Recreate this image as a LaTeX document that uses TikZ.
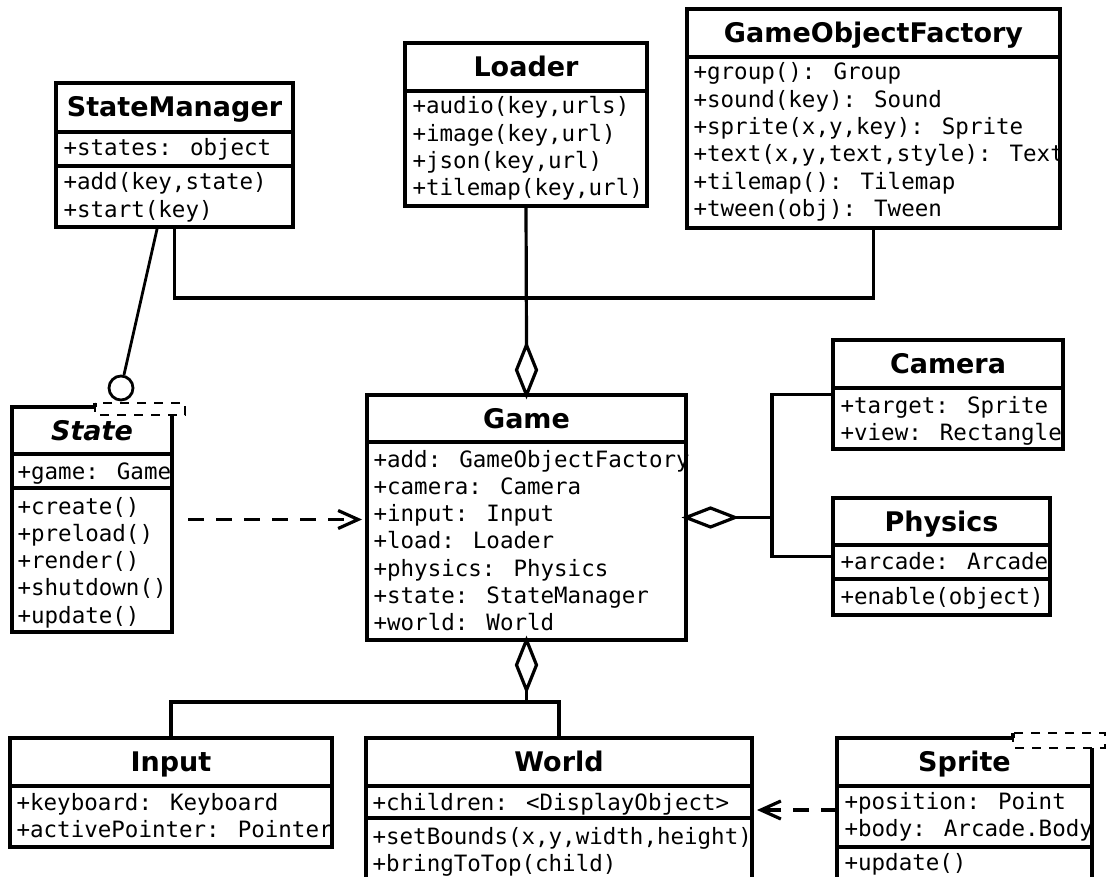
\documentclass[tikz,border=0pt]{standalone}
\usepackage{fontspec}
\setmainfont{DejaVu Sans}
\newfontfamily\monof{DejaVu Sans Mono}
\usetikzlibrary{arrows.meta,shapes.geometric,calc}
\newcommand\mrows[4]{% prefix, x, first baseline, list
  \foreach \t [count=\i] in {#4}{%
    \node[mem] (#1-\i) at (#2,{#3+(\i-1)*27.3}) {\t};}}
\begin{document}
\begin{tikzpicture}[x=1pt,y=-1pt, line width=3.2pt, line join=miter,
  box/.style={draw, rectangle, inner sep=0pt, outer sep=0pt, anchor=north west},
  ghost/.style={rectangle, inner sep=0pt, outer sep=0pt, anchor=north west},
  ttl/.style={font=\fontsize{27}{30}\selectfont\bfseries, anchor=base, inner sep=0pt},
  mem/.style={font=\monof\fontsize{22.5}{27}\selectfont, anchor=base west, inner sep=0pt},
  agg/.style={draw, fill=white, shape=diamond, inner sep=0pt, outer sep=0pt, aspect=1},
  dep/.style={dash pattern=on 16pt off 12pt, -{Straight Barb[length=20pt,width=18pt]}},
  tmpl/.style={dash pattern=on 9pt off 8pt, line width=2.8pt}
]
\clip (0,0) rectangle (1106,877);
\fill[white] (0,0) rectangle (1106,877);

% ---------- StateManager
\node[box, minimum width=237pt, minimum height=144pt] (sm) at (56,83) {};
\draw (56,132) -- (293,132);
\draw (56,166) -- (293,166);
\node[ttl] (sm-t) at (174.5,117) {StateManager};
\mrows{sma}{62}{156}{{+states: object}}
\mrows{smm}{62}{190}{{+add(key,state)},{+start(key)}}

% ---------- Loader
\node[box, minimum width=242pt, minimum height=163pt] (ld) at (405,43) {};
\draw (405,91) -- (647,91);
\node[ttl] (ld-t) at (526,76.5) {Loader};
\mrows{ldm}{411}{114}{{+audio(key,urls)},{+image(key,url)},{+json(key,url)},{+tilemap(key,url)}}

% ---------- GameObjectFactory
\node[box, minimum width=373pt, minimum height=219pt] (gof) at (687,9) {};
\draw (687,57) -- (1060,57);
\node[ttl] (gof-t) at (873.5,42.5) {GameObjectFactory};
\mrows{gofm}{692}{80}{{+group(): Group},{+sound(key): Sound},{+sprite(x,y,key): Sprite},{+text(x,y,text,style): Text},{+tilemap(): Tilemap},{+tween(obj): Tween}}

% ---------- State (interface with template box)
\node[ghost, minimum width=160pt, minimum height=225pt] (state) at (12,407) {};
\draw (95,407) -- (12,407) -- (12,632) -- (172,632) -- (172,415);
\draw (12,454) -- (172,454);
\draw (12,488) -- (172,488);
\node[ghost, minimum width=90pt, minimum height=12pt] (stpl) at (95,403) {};
\draw[tmpl] (95,403) rectangle (185,415);
\draw (95,403) -- (95,407);
\node[ttl, font=\fontsize{27}{30}\selectfont\bfseries\itshape] (state-t) at (92,440) {State};
\mrows{sta}{16}{479}{{+game: Game}}
\mrows{stm}{16}{514}{{+create()},{+preload()},{+render()},{+shutdown()},{+update()}}

% ---------- Game
\node[box, minimum width=319pt, minimum height=245pt] (game) at (367,395) {};
\draw (367,442) -- (686,442);
\node[ttl] (game-t) at (526.5,428) {Game};
\mrows{gma}{372}{467}{{+add: GameObjectFactory},{+camera: Camera},{+input: Input},{+load: Loader},{+physics: Physics},{+state: StateManager},{+world: World}}

% ---------- Camera
\node[box, minimum width=230pt, minimum height=109pt] (cam) at (833,340) {};
\draw (833,388) -- (1063,388);
\node[ttl] (cam-t) at (948,373.5) {Camera};
\mrows{cama}{839}{413}{{+target: Sprite},{+view: Rectangle}}

% ---------- Physics
\node[box, minimum width=217pt, minimum height=117pt] (phys) at (833,498) {};
\draw (833,545) -- (1050,545);
\draw (833,579) -- (1050,579);
\node[ttl] (phys-t) at (941.5,531) {Physics};
\mrows{pha}{839}{569}{{+arcade: Arcade}}
\mrows{phm}{839}{604}{{+enable(object)}}

% ---------- Input
\node[box, minimum width=322pt, minimum height=109pt] (inp) at (10,738) {};
\draw (10,786) -- (332,786);
\node[ttl] (inp-t) at (171,771.5) {Input};
\mrows{ina}{15}{810}{{+keyboard: Keyboard},{+activePointer: Pointer}}

% ---------- World
\node[box, minimum width=386pt, minimum height=160pt] (world) at (366,738) {};
\draw (366,786) -- (752,786);
\draw (366,818) -- (752,818);
\node[ttl] (world-t) at (559,771.5) {World};
\mrows{wda}{371}{810}{{+children: <DisplayObject>}}
\mrows{wdm}{371}{844}{{+setBounds(x,y,width,height)},{+bringToTop(child)}}

% ---------- Sprite (template box)
\node[ghost, minimum width=255pt, minimum height=144pt] (sprite) at (837,738) {};
\draw (1013,738) -- (837,738) -- (837,900);
\draw (1092,748) -- (1092,900);
\draw (837,786) -- (1092,786);
\draw (837,847) -- (1092,847);
\node[ghost, minimum width=92pt, minimum height=15pt] (sptpl) at (1013,733) {};
\draw[tmpl] (1013,733) rectangle (1105,748);
\draw (1013,733) -- (1013,738);
\node[ttl] (spr-t) at (964.5,771.5) {Sprite};
\mrows{spa}{843}{809}{{+position: Point},{+body: Arcade.Body}}
\mrows{spm}{843}{870}{{+update()}}

% ---------- connectors
\coordinate (bus) at (526,298);
\draw (sm.south) |- (bus) -| (gof.south);
\node[agg, minimum width=20pt, minimum height=50pt, anchor=south] (d1) at (game.north) {};
\draw (ld.south) -- (d1.north);

\node[agg, minimum width=49pt, minimum height=19pt, anchor=west] (d2) at (game.east) {};
\coordinate (split) at (772,517.5);
\draw (d2.east) -- (split);
\draw (cam.west) -| (split) |- (phys.west);

\node[agg, minimum width=20pt, minimum height=50pt, anchor=north] (d3) at (game.south) {};
\coordinate (bj) at (526.5,702);
\draw (d3.south) -- (bj);
\draw (inp.north) |- (bj) -| (world.north);

\node[draw, circle, minimum size=24pt, inner sep=0pt, line width=2.8pt] (lol) at (121,388) {};
\coordinate (smlol) at ($(sm.south)+(-17,0)$);
\draw[line width=2.8pt] (smlol) -- (lol);

\draw[dep] ($(state.east)+(16,0)$) -- ($(state.east -| game.west)+(-5,0)$);
\draw[dep] (sprite.west) -- ($(sprite.west -| world.east)+(5,0)$);
\end{tikzpicture}
\end{document}
